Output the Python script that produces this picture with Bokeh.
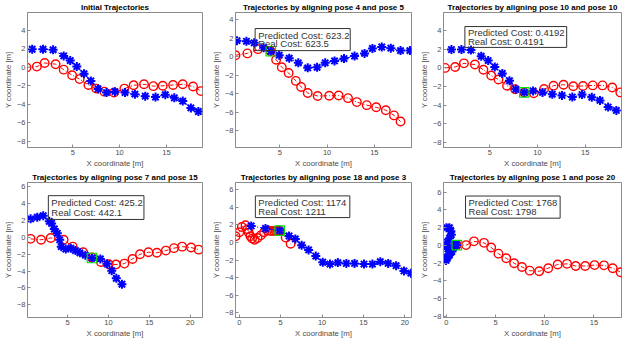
from bokeh.plotting import figure
from bokeh.layouts import gridplot
from bokeh.models import Range1d, FixedTicker, BoxAnnotation, Label
from bokeh.embed import file_html
from bokeh.resources import INLINE

# ---------------- data ----------------
x_ticks = [0, 5, 10, 15, 20]
y_ticks = [-8, -6, -4, -2, 0, 2, 4, 6]

titles = ["Initial Trajectories",
          "Trajectories by aligning pose 4 and pose 5",
          "Trajectories by aligning pose 10 and pose 10",
          "Trajectories by aligning pose 7 and pose 15",
          "Trajectories by aligning pose 18 and pose 3",
          "Trajectories by aligning pose 1 and pose 20"]

predicted_cost = [None, "623.2", "0.4192", "425.2", "1174", "1768"]
real_cost = [None, "623.5", "0.4191", "442.1", "1211", "1798"]
aligned_blue_pose = [None, 5, 10, 15, 3, 20]

# Panel 1
r1x = [0.07, 1.17, 2.0, 3.17, 4.03, 4.93, 5.73, 6.67, 7.5, 8.37, 9.4, 10.5, 11.5, 12.6, 13.6, 14.6, 15.7, 16.73, 17.83, 18.67]
r1y = [-0.03, 0.07, 0.46, 0.33, -0.26, -0.86, -1.28, -1.91, -2.3, -2.63, -2.73, -2.3, -1.94, -1.84, -2.04, -2.0, -1.91, -1.84, -2.07, -2.57]
b1x = [0.67, 1.83, 2.9, 4.03, 4.73, 5.43, 6.2, 6.93, 7.7, 8.6, 9.5, 10.57, 11.63, 12.73, 13.83, 14.87, 15.83, 16.73, 17.6, 18.4]
b1y = [1.94, 1.94, 1.88, 1.22, 0.72, 0.07, -0.69, -1.48, -2.34, -2.73, -2.63, -2.73, -2.9, -3.12, -3.22, -2.96, -3.29, -3.65, -4.38, -4.77]

# Panel 2
r2x = [0.3, 1.56, 2.68, 4.0, 4.6, 5.2, 5.93, 6.69, 7.25, 7.95, 9.0, 10.23, 11.23, 12.22, 13.15, 14.2, 15.2, 16.22, 17.09, 17.78]
r2y = [0.16, 0.36, 0.82, 0.59, -0.33, -1.15, -1.77, -2.62, -3.28, -3.93, -4.26, -4.23, -4.2, -4.49, -4.92, -5.25, -5.48, -5.8, -6.36, -7.02]
b2x = [0.46, 1.46, 2.28, 3.28, 4.04, 4.93, 5.99, 6.95, 7.95, 8.94, 9.8, 10.79, 11.79, 12.91, 13.97, 14.8, 15.79, 16.75, 17.78, 18.77]
b2y = [1.74, 1.67, 1.51, 0.98, 0.59, 0.16, -0.16, -0.66, -1.21, -1.15, -0.66, -0.46, -0.2, 0.07, 0.36, 0.89, 1.05, 0.92, 0.66, 0.66]

# Panel 3
r3x = [0.33, 1.38, 2.3, 3.45, 4.34, 5.16, 5.92, 6.81, 7.66, 8.62, 9.61, 10.69, 11.68, 12.73, 13.75, 14.77, 15.79, 16.81, 17.83, 18.68]
r3y = [0.0, 0.1, 0.49, 0.36, -0.2, -0.82, -1.25, -1.91, -2.3, -2.63, -2.73, -2.27, -1.91, -1.81, -1.97, -1.94, -1.88, -1.88, -2.1, -2.63]
b3x = [0.99, 2.04, 3.03, 4.11, 4.84, 5.53, 6.32, 7.07, 7.73, 8.62, 9.54, 10.53, 11.55, 12.57, 13.65, 14.67, 15.69, 16.55, 17.4, 18.26]
b3y = [1.97, 1.97, 1.91, 1.25, 0.79, 0.1, -0.59, -1.38, -2.3, -2.63, -2.47, -2.63, -2.83, -2.96, -3.13, -2.86, -3.16, -3.49, -4.21, -4.57]

# Panel 4
r4x = [0.48, 1.76, 2.94, 4.52, 5.63, 6.91, 7.98, 9.08, 10.04, 10.92, 11.95, 12.94, 13.86, 14.89, 15.92, 17.02, 18.01, 19.01, 20.11, 21.03]
r4y = [-0.18, -0.29, -0.07, -0.29, -1.1, -1.76, -2.38, -2.93, -3.18, -3.22, -3.11, -2.56, -2.01, -1.76, -1.83, -1.57, -1.28, -1.1, -1.21, -1.46]
b4x = [0.48, 1.29, 2.02, 2.76, 3.05, 3.38, 3.75, 4.04, 4.23, 4.78, 5.4, 5.96, 6.51, 7.17, 7.98, 9.01, 9.82, 10.4, 10.96, 11.65]
b4y = [2.19, 2.38, 2.56, 1.9, 1.65, 0.99, 0.48, -0.29, -1.1, -1.39, -1.28, -1.57, -1.83, -2.12, -2.45, -2.56, -3.14, -3.95, -4.86, -5.56]

# Panel 5
r5x = [-0.45, 0.0, 0.3, 0.75, 1.0, 1.15, 1.35, 1.55, 1.85, 2.2, 2.6, 3.0, 3.4, 3.8, 4.2, 4.45, 4.65, 4.87, 5.6, 6.2]
r5y = [0.7, 1.15, 1.75, 1.95, 1.5, 1.1, 0.7, 0.45, 0.3, 0.5, 0.8, 1.15, 1.35, 1.3, 1.3, 1.3, 1.35, 1.34, 0.55, -0.15]
b5x = [1.44, 3.16, 4.87, 6.01, 6.77, 7.53, 8.37, 9.24, 10.08, 10.95, 11.9, 12.93, 13.92, 15.06, 16.08, 17.03, 17.98, 18.94, 19.89, 20.72]
b5y = [1.87, 1.58, 1.34, 0.74, 0.39, -0.32, -0.85, -1.55, -2.25, -2.46, -2.29, -2.39, -2.39, -2.46, -2.46, -2.18, -2.39, -2.64, -3.24, -3.49]

# Panel 6
r6x = [1.05, 2.0, 2.8, 3.82, 4.55, 5.29, 6.08, 6.88, 7.68, 8.47, 9.43, 10.35, 11.31, 12.26, 13.15, 14.11, 15.06, 16.02, 16.91, 17.71]
r6y = [0.03, 0.03, 0.45, 0.28, -0.24, -0.94, -1.46, -2.02, -2.44, -2.86, -2.93, -2.58, -2.16, -2.09, -2.33, -2.33, -2.23, -2.26, -2.58, -3.03]
b6x = [0.0, 0.3, 0.45, 0.5, 0.3, 0.1, -0.05, 0.15, 0.35, 0.3, 0.1, -0.05, 0.05, 0.3, 0.55, 0.7, 0.8, 0.9, 1.0, 1.05]
b6y = [2.0, 2.0, 1.6, 1.2, 0.8, 0.35, -0.05, -0.4, -0.7, -1.0, -1.3, -1.7, -1.5, -1.1, -0.7, -0.3, -0.05, 0.1, 0.05, 0.03]

reds = [(r1x, r1y), (r2x, r2y), (r3x, r3y), (r4x, r4y), (r5x, r5y), (r6x, r6y)]
blues = [(b1x, b1y), (b2x, b2y), (b3x, b3y), (b4x, b4y), (b5x, b5y), (b6x, b6y)]

# ---------------- layout / style ----------------
x_limits = [(0.17, 18.84), (0.3, 18.94), (0.16, 18.8), (0.1, 21.5), (-0.46, 20.8), (-0.3, 17.8)]
y_limits = [(-8.65, 5.9), (-9.84, 4.79), (-8.55, 5.95), (-9.5, 6.5), (-8.52, 6.8), (-8.15, 7.1)]
# (left, right, top, bottom) borders in px
borders = [(19, 6, 9, 20), (21, 4, 6, 21), (21, 3, 9, 20),
           (17, 3, 9, 20), (21, 5, 11, 20), (20, 3, 10, 20)]
# text boxes (left, right, bottom, top) in data units
boxes = [None, (2.38, 12.45, 0.66, 3.05), (2.4, 13.06, 2.2, 4.44), (2.65, 14.34, 2.12, 4.94),
         (1.94, 13.35, 2.82, 5.28), (1.94, 11.56, 3.07, 5.57)]

FONT = "Liberation Sans"
FRAME = "#8c8c8c"
TXT = "#4d4d4d"
W, H = 208, 170


def style_axis(ax, lab, tk):
    ax.ticker = FixedTicker(ticks=tk)
    ax.major_tick_in = 3
    ax.major_tick_out = 0
    ax.minor_tick_line_color = None
    ax.axis_line_color = FRAME
    ax.major_tick_line_color = FRAME
    ax.axis_label = lab
    ax.axis_label_text_font = FONT
    ax.axis_label_text_font_style = "normal"
    ax.axis_label_text_font_size = "7.8px"
    ax.axis_label_text_color = TXT
    ax.axis_label_standoff = 1
    ax.major_label_text_font = FONT
    ax.major_label_text_font_size = "7.5px"
    ax.major_label_text_color = TXT
    ax.major_label_standoff = 2


figs = []
for i in range(6):
    l, r, t, b = borders[i]
    p = figure(width=W, height=H, output_backend="svg", toolbar_location=None,
               x_range=Range1d(*x_limits[i]), y_range=Range1d(*y_limits[i]),
               min_border_left=l, min_border_right=r, min_border_top=t, min_border_bottom=b,
               background_fill_color="white", border_fill_color="white")
    p.title.text = titles[i]
    p.title.align = "center"
    p.title.text_font = FONT
    p.title.text_font_size = "8px"
    p.title.text_font_style = "bold"
    p.title.text_color = "black"
    p.title.standoff = 1
    p.xgrid.visible = False
    p.ygrid.visible = False
    p.outline_line_color = FRAME
    p.outline_line_alpha = 1
    style_axis(p.xaxis[0], "X coordinate [m]", x_ticks)
    style_axis(p.yaxis[0], "Y coordinate [m]", y_ticks)

    rx, ry = reds[i]
    bx, by = blues[i]
    p.line(rx, ry, line_color="red", line_width=1, line_dash="4 2 1 2")
    p.scatter(rx, ry, marker="circle", size=8.5, fill_color=None, line_color="red", line_width=1.4)
    p.line(bx, by, line_color="blue", line_width=1, line_dash="4 2 1 2")
    p.scatter(bx, by, marker="asterisk", size=9, line_color="blue", line_width=2)

    k = aligned_blue_pose[i]
    if k is not None:
        p.scatter([bx[k - 1]], [by[k - 1]], marker="square", size=9.5, fill_color=None,
                  line_color="#00e000", line_width=1.2)
    if boxes[i] is not None:
        bl, br, bb, bt = boxes[i]
        p.add_layout(BoxAnnotation(left=bl, right=br, bottom=bb, top=bt, fill_alpha=0,
                                   line_color="#333333", line_width=1, line_alpha=1))
        h = bt - bb
        for j, s in enumerate(["Predicted Cost: " + predicted_cost[i], "Real Cost: " + real_cost[i]]):
            p.add_layout(Label(x=bl, y=bt - h * (0.3 + 0.4 * j), text=s, x_offset=3,
                               text_font=FONT, text_font_size="9.5px", text_color="#333333",
                               text_baseline="middle", text_align="left"))
    figs.append(p)

grid = gridplot([figs[:3], figs[3:]], toolbar_location=None)

open("out.html", "w").write(file_html(grid, INLINE))
